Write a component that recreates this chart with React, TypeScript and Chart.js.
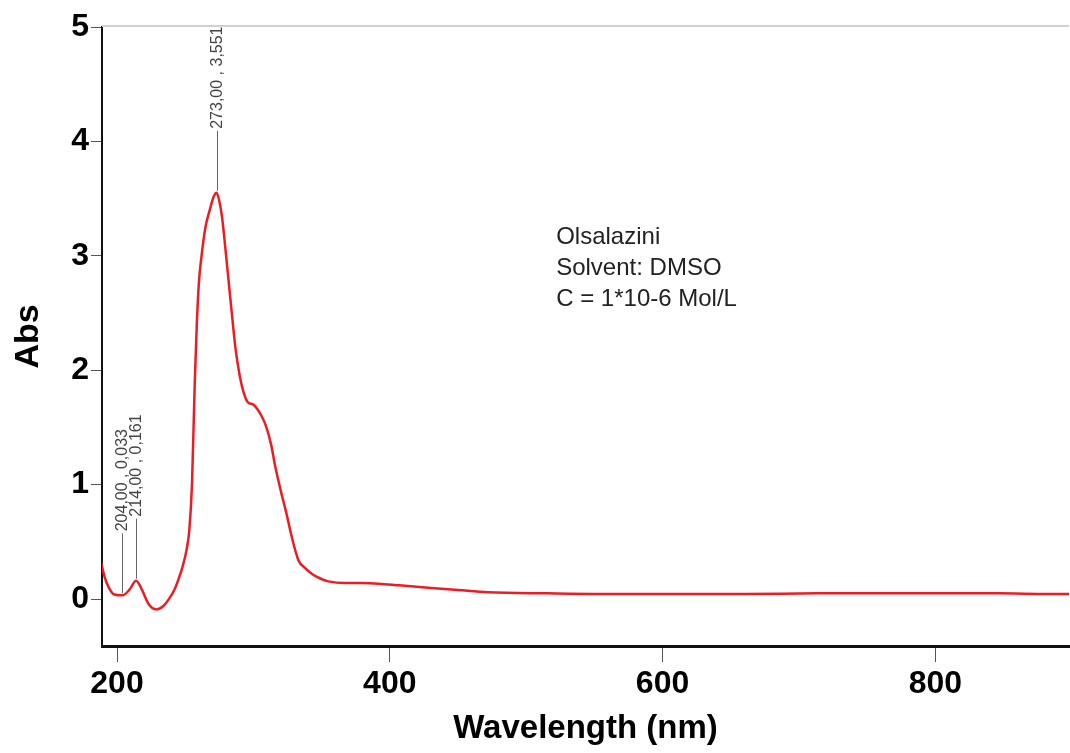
import React, { useEffect, useRef } from "react";
import { Chart, registerables } from "chart.js";

Chart.register(...registerables);

const wavelengths: number[] = [
  188, 191, 194, 198, 204, 209, 214, 218, 223, 229, 234, 238, 242, 245, 248, 251, 253, 255, 257, 258.5,
  260, 262, 265, 268, 271, 273, 275, 277, 280, 282, 285, 287, 290, 293, 296, 300, 303, 306, 309, 313,
  316, 320, 324, 328, 333, 338, 343, 349, 355, 367, 380, 392, 407, 428, 450, 472, 516, 553, 626, 660,
  714, 773, 846, 883, 898,
];
const absorbance: number[] = [
  0.34, 0.19, 0.1, 0.04, 0.033, 0.08, 0.161, 0.09, -0.04, -0.09, -0.06, 0.0, 0.08, 0.17, 0.28, 0.43, 0.6, 1.01, 1.89, 2.4,
  2.76, 3.0, 3.26, 3.4, 3.52, 3.551, 3.48, 3.34, 3.0, 2.76, 2.4, 2.18, 1.95, 1.8, 1.72, 1.7, 1.66, 1.6, 1.52, 1.35,
  1.16, 0.95, 0.76, 0.55, 0.34, 0.27, 0.22, 0.18, 0.155, 0.14, 0.14, 0.135, 0.12, 0.1, 0.08, 0.06, 0.05, 0.045, 0.045, 0.045,
  0.05, 0.05, 0.05, 0.045, 0.045,
];

const peakNm: number[] = [204, 214, 273];
const peakAbs: number[] = [0.033, 0.161, 3.551];

const xTicks: number[] = [200, 400, 600, 800];
const yTicks: number[] = [0, 1, 2, 3, 4, 5];

const noteLines: string[] = ["Olsalazini", "Solvent: DMSO", "C = 1*10-6 Mol/L"];
const noteX = 522;
const noteY: number[] = [3.16, 2.89, 2.62];

const fmt = (v: number, d: number) => v.toFixed(d).replace(".", ",");

const annotPlugin = {
  id: "annot",
  afterDatasetsDraw(chart: any) {
    const { ctx, chartArea, scales } = chart;
    const x = scales.x;
    const y = scales.y;
    ctx.save();
    ctx.beginPath();
    ctx.rect(chartArea.left, chartArea.top, chartArea.right - chartArea.left, chartArea.bottom - chartArea.top);
    ctx.clip();
    peakNm.forEach((nm, i) => {
      const px = Math.round(x.getPixelForValue(nm)) + 0.5;
      const py = y.getPixelForValue(peakAbs[i]);
      ctx.strokeStyle = "#666";
      ctx.lineWidth = 1;
      ctx.beginPath();
      ctx.moveTo(px, py - 2);
      ctx.lineTo(px, py - 62);
      ctx.stroke();
      ctx.save();
      ctx.translate(px, py - 64);
      ctx.rotate(-Math.PI / 2);
      ctx.font = '16px "Liberation Sans", Arial, sans-serif';
      ctx.fillStyle = "#444";
      ctx.textAlign = "left";
      ctx.textBaseline = "middle";
      ctx.fillText(`${fmt(nm, 2)} , ${fmt(peakAbs[i], 3)}`, 0, 0);
      ctx.restore();
    });
    ctx.font = '24px "Liberation Sans", Arial, sans-serif';
    ctx.fillStyle = "#222";
    ctx.textAlign = "left";
    ctx.textBaseline = "middle";
    noteLines.forEach((t, i) => {
      ctx.fillText(t, x.getPixelForValue(noteX), y.getPixelForValue(noteY[i]));
    });
    ctx.restore();
    // top border
    ctx.save();
    ctx.strokeStyle = "#d0d0d0";
    ctx.lineWidth = 2;
    ctx.beginPath();
    ctx.moveTo(chartArea.left, chartArea.top - 1);
    ctx.lineTo(chartArea.right, chartArea.top - 1);
    ctx.stroke();
    ctx.restore();
  },
};

export default function App() {
  const ref = useRef<HTMLCanvasElement>(null);
  useEffect(() => {
    if (!ref.current) return;
    const chart = new Chart(ref.current, {
      type: "line",
      data: {
        datasets: [
          {
            data: wavelengths.map((w, i) => ({ x: w, y: absorbance[i] })),
            borderColor: "#ec1c24",
            borderWidth: 2.5,
            pointRadius: 0,
            cubicInterpolationMode: "monotone",
            fill: false,
          },
        ],
      },
      options: {
        animation: false,
        responsive: true,
        maintainAspectRatio: false,
        layout: { padding: { top: 27, right: 1, left: 0, bottom: 0 } },
        plugins: { legend: { display: false }, tooltip: { enabled: false } },
        scales: {
          x: {
            type: "linear",
            min: 189,
            max: 898,
            afterBuildTicks: (s: any) => {
              s.ticks = xTicks.map((v) => ({ value: v }));
            },
            afterFit: (s: any) => {
              s.height = 107;
            },
            border: { color: "#111", width: 3 },
            grid: { display: true, drawOnChartArea: false, drawTicks: true, tickLength: 16, color: "#555", lineWidth: 1 },
            ticks: {
              color: "#000",
              padding: 3,
              maxRotation: 0,
              font: { family: '"Liberation Sans", Arial, sans-serif', size: 32, weight: "bold" },
            },
            title: {
              display: true,
              text: "Wavelength (nm)",
              color: "#000",
              font: { family: '"Liberation Sans", Arial, sans-serif', size: 33, weight: "bold" },
              padding: { top: 0, bottom: 4 },
            },
          },
          y: {
            type: "linear",
            min: -0.41,
            max: 5,
            afterBuildTicks: (s: any) => {
              s.ticks = yTicks.map((v) => ({ value: v }));
            },
            afterFit: (s: any) => {
              s.width = 102;
            },
            border: { color: "#111", width: 2 },
            grid: { display: true, drawOnChartArea: false, drawTicks: true, tickLength: 11, color: "#555", lineWidth: 1 },
            ticks: {
              color: "#000",
              padding: 2,
              font: { family: '"Liberation Sans", Arial, sans-serif', size: 32, weight: "bold" },
            },
            title: {
              display: true,
              text: "Abs",
              color: "#000",
              font: { family: '"Liberation Sans", Arial, sans-serif', size: 34, weight: "bold" },
              padding: { top: 8, bottom: 0 },
            },
          },
        },
      },
      plugins: [annotPlugin],
    } as any);
    return () => chart.destroy();
  }, []);
  return (
    <div style={{ position: "absolute", left: 0, top: 0, width: 1070, height: 753, background: "#fff" }}>
      <canvas ref={ref} />
    </div>
  );
}
